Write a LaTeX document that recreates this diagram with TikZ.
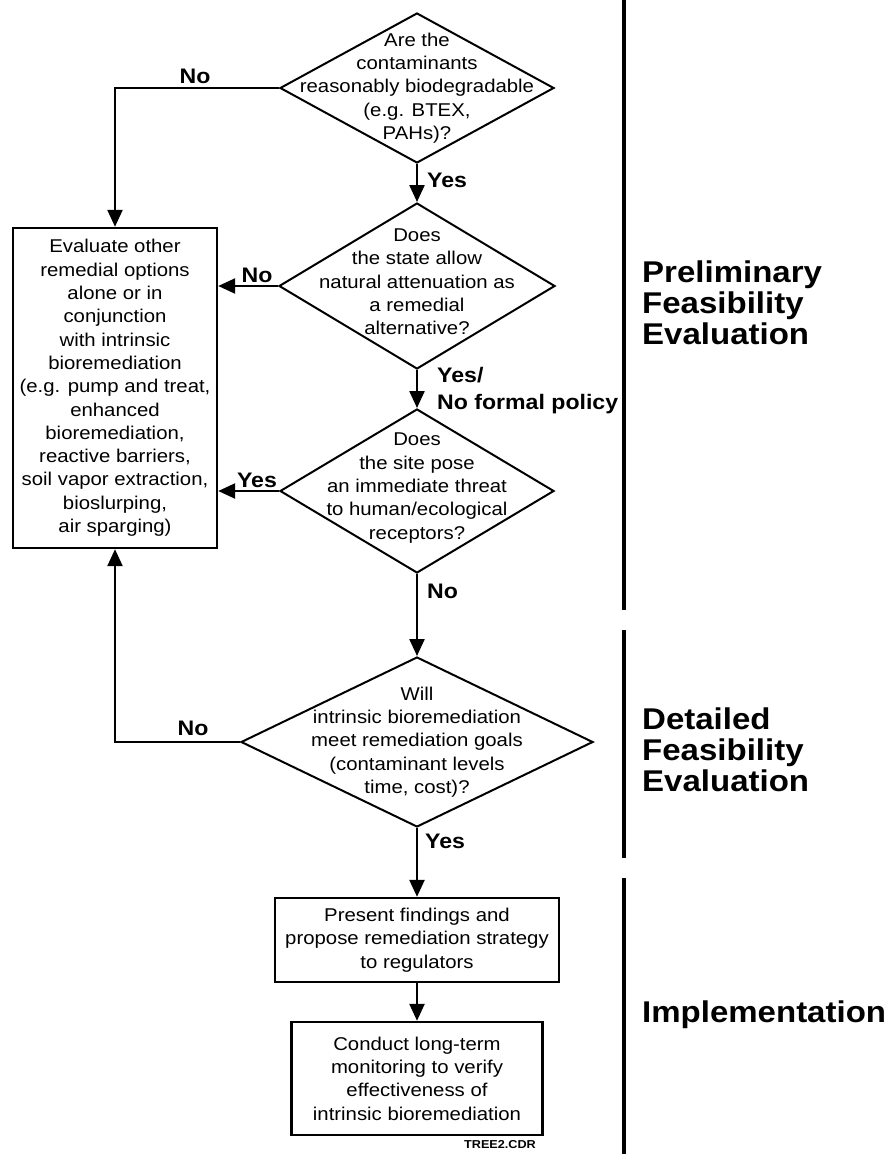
\documentclass[tikz,border=0pt]{standalone}
\usepackage{fontspec}
\setmainfont{Liberation Sans}[FakeStretch=1.1]
\usetikzlibrary{shapes.geometric,arrows.meta}
\begin{document}
\begin{tikzpicture}[x=1pt,y=-1pt,
  dia/.style={draw, line width=2pt, shape=diamond, inner sep=0pt},
  qtext/.style={align=center, inner sep=0pt, font=\fontsize{18.5}{23.3}\selectfont},
  actbox/.style={draw, line width=2.4pt, align=center, inner sep=0pt,
                 font=\fontsize{18.5}{23.3}\selectfont},
  flow/.style={line width=2.4pt, -{Triangle[length=17pt,width=15pt]}},
  ans/.style={inner sep=0pt, font=\bfseries\fontsize{21}{27}\selectfont},
  phase/.style={inner sep=0pt, align=left, font=\bfseries\fontsize{30}{31}\selectfont},
  phaseline/.style={line width=3.5pt}
]
\useasboundingbox (0,0) rectangle (888,1154);

% decision diamonds
\node[dia, minimum width=274pt, minimum height=150pt] (d1) at (417,88) {};
\node[qtext] (d1t) at (d1.center) {Are the\\contaminants\\reasonably biodegradable\\(e.g. BTEX,\\PAHs)?};

\node[dia, minimum width=276pt, minimum height=166pt] (d2) at (417,286) {};
\node[qtext] (d2t) at ([yshift=4pt]d2.center) {Does\\the state allow\\natural attenuation as\\a remedial\\alternative?};

\node[dia, minimum width=274pt, minimum height=164pt] (d3) at (417,491) {};
\node[qtext] (d3t) at ([yshift=3pt]d3.center) {Does\\the site pose\\an immediate threat\\to human/ecological\\receptors?};

\node[dia, minimum width=352pt, minimum height=170pt] (d4) at (417,742) {};
\node[qtext] (d4t) at (d4.center) {Will\\intrinsic bioremediation\\meet remediation goals\\(contaminant levels\\time, cost)?};

% action boxes
\node[actbox, minimum width=204pt, minimum height=320pt] (alt) at (115,388)
  {Evaluate other\\remedial options\\alone or in\\conjunction\\with intrinsic\\bioremediation\\(e.g. pump and treat,\\enhanced\\bioremediation,\\reactive barriers,\\soil vapor extraction,\\bioslurping,\\air sparging)};
\node[actbox, minimum width=284pt, minimum height=84pt] (present) at (417,940)
  {Present findings and\\propose remediation strategy\\to regulators};
\node[actbox, minimum width=251pt, minimum height=113pt] (monitor) at (417,1078.5)
  {Conduct long-term\\monitoring to verify\\effectiveness of\\intrinsic bioremediation};

% connectors
\draw[flow] (d1.south) -- (d2.north);
\draw[flow] (d2.south) -- (d3.north);
\draw[flow] (d3.south) -- (d4.north);
\draw[flow] (d4.south) -- (present.north);
\draw[flow] (present.south) -- (monitor.north);
\draw[flow] (d1.west) -| (alt.north);
\draw[flow] (d2.west) -- (d2.west -| alt.east);
\draw[flow] (d3.west) -- (d3.west -| alt.east);
\draw[flow] (d4.west) -| (alt.south);

% branch labels
\node[ans, anchor=base] (l1) at (195,83) {No};
\node[ans, anchor=base west] (l2) at (427,187) {Yes};
\node[ans, anchor=base] (l3) at (257,282) {No};
\node[ans, anchor=north west, align=left] (l4) at (437,367) {Yes/\\No formal policy};
\node[ans, anchor=base] (l5) at (257,487) {Yes};
\node[ans, anchor=base west] (l6) at (427,598) {No};
\node[ans, anchor=base] (l7) at (193,735) {No};
\node[ans, anchor=base west] (l8) at (425,848) {Yes};

\node[inner sep=0pt, anchor=base, font=\bfseries\fontsize{11.5}{12}\selectfont] (tag) at (500,1148) {TREE2.CDR};

% evaluation phases
\coordinate (p1a) at (624,0);    \coordinate (p1b) at (624,610);
\coordinate (p2a) at (624,630);  \coordinate (p2b) at (624,858);
\coordinate (p3a) at (624,878);  \coordinate (p3b) at (624,1154);
\draw[phaseline] (p1a) -- (p1b);
\draw[phaseline] (p2a) -- (p2b);
\draw[phaseline] (p3a) -- (p3b);
\node[phase, anchor=west] (ph1) at (642,303) {Preliminary\\Feasibility\\Evaluation};
\node[phase, anchor=west] (ph2) at (642,750) {Detailed\\Feasibility\\Evaluation};
\node[phase, anchor=base west] (ph3) at (642,1022) {Implementation};
\end{tikzpicture}
\end{document}
